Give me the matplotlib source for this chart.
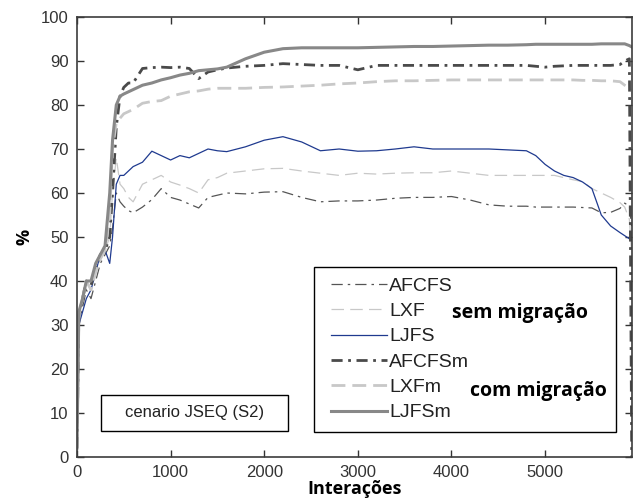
import matplotlib
matplotlib.use('Agg')
import matplotlib.pyplot as plt
from matplotlib.patches import Rectangle

# iteration grid and the six series, in %
iters = [0, 20, 60, 100, 150, 200, 250, 300, 350, 380,
         420, 460, 500, 550, 600, 700, 800, 900, 1000, 1100,
         1200, 1300, 1400, 1500, 1600, 1800, 2000, 2200, 2400, 2600,
         2800, 3000, 3200, 3400, 3600, 3800, 4000, 4200, 4400, 4600,
         4800, 4900, 5000, 5100, 5200, 5300, 5400, 5500, 5600, 5700,
         5800, 5850, 5900, 5925]

afcfs = [2, 30, 34, 38, 36, 40, 44, 46, 48, 52,
         60, 58, 57, 56, 55.5, 56.8, 58.5, 61, 59, 58.4,
         57.5, 56.6, 59, 59.5, 60, 59.8, 60.2, 60.3, 59, 58,
         58.2, 58.2, 58.4, 58.8, 59, 59, 59.2, 58.4, 57.3, 57,
         57, 56.8, 56.8, 56.8, 56.8, 56.8, 56.7, 56.6, 55.5, 55.6,
         56.5, 57.7, 57, 52]

lxf = [2, 32, 36, 40, 38, 42, 45, 47, 50, 60,
       68, 62, 61, 59, 58, 62, 63, 64, 62.5, 61.8,
       61, 60, 63, 63.5, 64.5, 65, 65.5, 65.6, 65, 64.5,
       64, 64.5, 64.3, 64.5, 64.6, 64.6, 65, 64.5, 64, 64,
       64, 64, 64, 64, 63.5, 63, 62.6, 61, 60, 59,
       57.8, 56.8, 54, 46]

ljfs = [15, 30, 33, 36, 38, 42, 46, 47, 44, 50,
        62, 64, 64, 65, 66, 67, 69.5, 68.5, 67.5, 68.5,
        68, 69, 70, 69.6, 69.4, 70.5, 72, 72.8, 71.6, 69.6,
        70, 69.5, 69.6, 70, 70.5, 70, 70, 70, 70, 69.8,
        69.6, 68.5, 66.5, 65, 64, 63.5, 62.5, 61, 55, 52.5,
        51, 50.3, 49.6, 49.3]

afcfs_m = [2, 32, 36, 40, 39, 43, 46, 47, 50, 60,
           75, 82, 84, 85, 85, 88.3, 88.5, 88.6, 88.5, 88.6,
           88.3, 86, 87.5, 88, 88.4, 88.8, 89, 89.4, 89.2, 89,
           89, 88, 89, 89, 89, 89, 89, 89, 89, 89,
           89, 88.8, 88.6, 88.8, 88.9, 89, 89, 89, 89, 89,
           89.2, 90, 90.5, 0]

lxf_m = [2, 32, 36, 40, 38, 42, 45, 47, 55, 70,
         76, 77, 78, 78.5, 79, 80.4, 80.8, 81, 82, 82.5,
         83, 83.2, 83.6, 83.8, 83.8, 83.8, 84, 84.1, 84.3, 84.5,
         84.8, 85, 85.3, 85.5, 85.5, 85.6, 85.7, 85.7, 85.7, 85.7,
         85.7, 85.7, 85.7, 85.7, 85.7, 85.7, 85.6, 85.6, 85.5, 85.5,
         85.3, 84.5, 83.8, 83.5]

ljfs_m = [2, 33, 36, 40, 40, 44, 46, 48, 60, 72,
          80, 82, 82.5, 83, 83.5, 84.5, 85, 85.7, 86.2, 86.8,
          87.2, 87.8, 88, 88.2, 88.6, 90.5, 92, 92.8, 93, 93,
          93, 93, 93.1, 93.2, 93.3, 93.3, 93.4, 93.5, 93.6, 93.6,
          93.7, 93.8, 93.8, 93.8, 93.8, 93.8, 93.8, 93.8, 93.9, 93.9,
          93.9, 93.9, 93.5, 93.2]

labels = ['AFCFS', 'LXF', 'LJFS', 'AFCFSm', 'LXFm', 'LJFSm']

plt.rcParams['font.family'] = ['Liberation Sans', 'DejaVu Sans']

fig = plt.figure(figsize=(6.36, 5.0), dpi=100)
ax = fig.add_axes([0.121, 0.086, 0.873, 0.88])

dark = '#555555'
light = '#c8c8c8'
ax.plot(iters, afcfs, color=dark, lw=0.9, dashes=(9, 4, 2, 4), label=labels[0])
ax.plot(iters, lxf, color=light, lw=0.9, dashes=(10, 5), label=labels[1])
ax.plot(iters, ljfs, color='#1f3a8f', lw=0.9, label=labels[2])
ax.plot(iters, afcfs_m, color='#4a4a4a', lw=2.0, dashes=(4, 2, 1, 2), label=labels[3])
ax.plot(iters, lxf_m, color=light, lw=2.0, dashes=(5, 2.5), label=labels[4])
ax.plot(iters, ljfs_m, color='#888888', lw=2.2, label=labels[5])

ax.set_xlim(0, 5930)
ax.set_ylim(0, 100)
ax.set_xticks([0, 1000, 2000, 3000, 4000, 5000])
ax.set_yticks(range(0, 101, 10))
ax.tick_params(direction='in', top=True, right=True, length=5, width=1,
               colors='#333333', labelsize=12, pad=6)
for s in ax.spines.values():
    s.set_color('#3c3c3c')
    s.set_linewidth(1.2)

ax.set_xlabel('Interações', fontsize=13, fontweight='bold',
              family=['Open Sans', 'DejaVu Sans'], labelpad=0)
ax.set_ylabel('%', fontsize=13, fontweight='bold',
              family=['Open Sans', 'DejaVu Sans'], labelpad=5)

# legend with a hand drawn frame, leaving room for the group notes
leg = ax.legend(loc='center left', bbox_to_anchor=(0.44, 0.245), frameon=False,
                fontsize=14, handlelength=2.9, handletextpad=0.1,
                labelspacing=0.4, borderpad=0)
for t in leg.get_texts():
    t.set_color('#222222')
ax.add_patch(Rectangle((0.427, 0.057), 0.544, 0.375, transform=ax.transAxes,
                       fill=False, edgecolor='black', lw=1.0, zorder=5))

ax.text(0.676, 0.327, 'sem migração', transform=ax.transAxes, fontsize=14,
        fontweight='bold', family=['Open Sans', 'DejaVu Sans'], va='center')
ax.text(0.708, 0.15, 'com migração', transform=ax.transAxes, fontsize=14,
        fontweight='bold', family=['Open Sans', 'DejaVu Sans'], va='center')

ax.add_patch(Rectangle((0.043, 0.059), 0.337, 0.082, transform=ax.transAxes,
                       fill=False, edgecolor='black', lw=1.0, zorder=5))
ax.text(0.2115, 0.1, 'cenario JSEQ (S2)', transform=ax.transAxes, fontsize=12,
        ha='center', va='center', color='#222222')

fig.savefig('out.png', dpi=100)
